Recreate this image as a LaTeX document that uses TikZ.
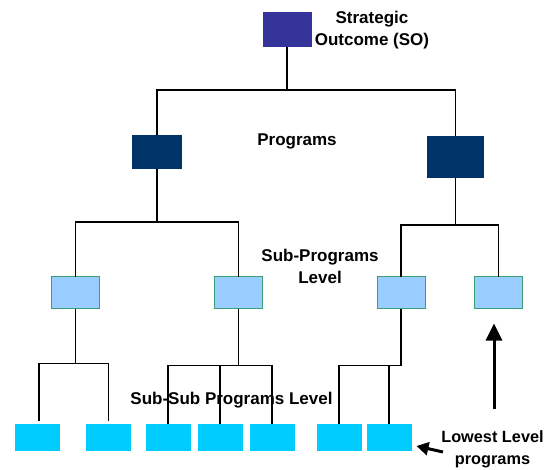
\documentclass[tikz,border=0pt]{standalone}
\usepackage{fontspec}
\setmainfont{Liberation Sans}
\usetikzlibrary{arrows.meta}
\definecolor{soblue}{HTML}{333399}
\definecolor{progblue}{HTML}{003366}
\definecolor{subblue}{HTML}{99CCFF}
\definecolor{subgreen}{HTML}{3C9E74}
\definecolor{leafcyan}{HTML}{00CCFF}
\begin{document}
\begin{tikzpicture}[x=1pt,y=-1pt,
  box/.style={rectangle, inner sep=0pt, outer sep=0pt},
  sobox/.style={box, fill=soblue, minimum width=49pt, minimum height=35pt},
  progbox/.style={box, fill=progblue},
  subbox/.style={box, fill=subblue, draw=subgreen, line width=0.9pt, minimum width=48pt, minimum height=32pt},
  leafbox/.style={box, fill=leafcyan, minimum width=45pt, minimum height=27pt},
  tag/.style={font=\bfseries\fontsize{17}{22}\selectfont, align=center, inner sep=0pt},
  sidetag/.style={tag, font=\bfseries\fontsize{16.3}{22}\selectfont},
  link/.style={line width=1.3pt, black},
  pointer/.style={line width=3pt, -{Triangle[length=17pt,width=16pt]}},
  smallpointer/.style={line width=3pt, -{Triangle[length=12pt,width=13pt]}}
]
\useasboundingbox (0,0) rectangle (546,469);

% level labels (connectors are drawn over them)
\node[tag] (lblso)   at (372,30)  {Strategic\\Outcome (SO)};
\node[tag] (lblprog) at (297,141) {Programs};
\node[tag] (lblsub)  at (320,266.5) {Sub-Programs\\Level};
\node[tag] (lblsubsub) at (231.5,400) {Sub-Sub Programs Level};
\node[sidetag] (lblleaf) at (492.5,449) {Lowest Level\\programs};

% strategic outcome
\node[sobox] (so) at (287,29.5) {};

% programs
\node[progbox, minimum width=50pt, minimum height=34pt] (p1) at (157,152) {};
\node[progbox, minimum width=57pt, minimum height=42pt] (p2) at (455.5,157) {};

% sub-programs
\node[subbox] (s1) at (75.5,292.5) {};
\node[subbox] (s2) at (238.5,292.5) {};
\node[subbox] (s3) at (401,292.5) {};
\node[subbox] (s4) at (498.5,292.5) {};

% sub-sub programs
\node[leafbox] (l1) at (37.5,437.5) {};
\node[leafbox] (l2) at (108.5,437.5) {};
\node[leafbox] (l3) at (168,437.5) {};
\node[leafbox] (l4) at (220,437.5) {};
\node[leafbox] (l5) at (272,437.5) {};
\node[leafbox] (l6) at (339,437.5) {};
\node[leafbox] (l7) at (389,437.5) {};

% tree connectors
\draw[link] (so.south) -- ++(0,43) coordinate (j0);
\draw[link] (j0) -| (p1.north);
\draw[link] (j0) -| (p2.north);

\draw[link] (p1.south) -- ++(0,53) coordinate (j1);
\draw[link] (j1) -| (s1.north);
\draw[link] (j1) -| (s2.north);

\draw[link] (p2.south) -- ++(0,47) coordinate (j2);
\draw[link] (j2) -| (s3.north);
\draw[link] (j2) -| (s4.north);

\draw[link] (s1.south) -- ++(0,55) coordinate (j3);
\draw[link] (j3) -| ([xshift=1.5pt,yshift=3pt]l1.north);
\draw[link] (j3) -| ([yshift=3pt]l2.north);

\draw[link] (s2.south) -- ++(0,57) coordinate (j4);
\draw[link] (j4) -| (l3.north);
\draw[link] (j4) -| (l4.north);
\draw[link] (j4) -| (l5.north);

\draw[link] (s3.south) -- ++(0,57) coordinate (j5);
\draw[link] (j5) -| (l6.north);
\draw[link] (j5) -| (l7.north);

% pointers
\coordinate (upbase) at (494,409);
\draw[pointer] (upbase) -- ([xshift=-4.5pt,yshift=-15pt]s4.south);
\coordinate (lowtail) at (443,452);
\draw[smallpointer] (lowtail) -- ([xshift=5pt,yshift=-8.5pt]l7.east);
\end{tikzpicture}
\end{document}
